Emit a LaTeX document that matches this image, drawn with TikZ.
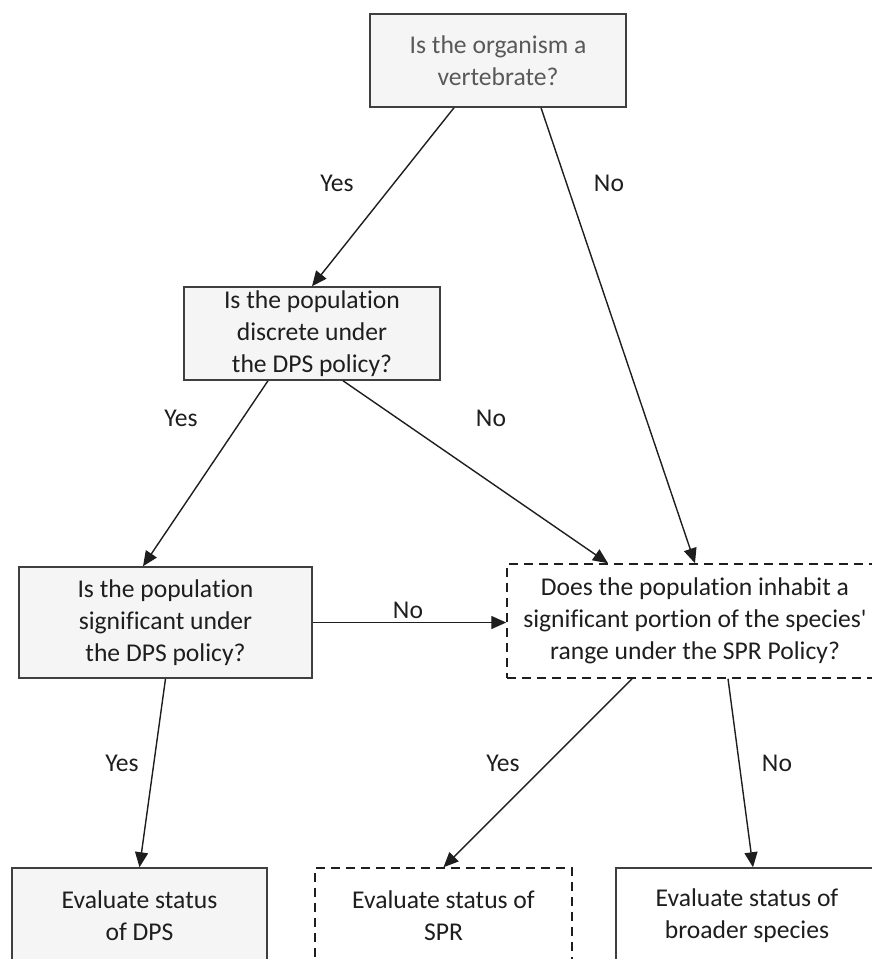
\documentclass[tikz,border=0pt]{standalone}
\usepackage{fontspec}
\setmainfont{Carlito}[Ligatures=NoCommon]
\usetikzlibrary{arrows.meta, positioning}
\definecolor{boxfill}{HTML}{F5F5F5}
\definecolor{boxline}{HTML}{3F3F3F}
\definecolor{greytext}{HTML}{595959}
\definecolor{inktext}{HTML}{1E1E1E}

\begin{document}
\begin{tikzpicture}[
    x=0.5pt, y=-0.5pt,
    box/.style={draw=boxline, line width=0.75pt, fill=boxfill, align=center, inner sep=0pt, text=inktext},
    wbox/.style={box, fill=white},
    dbox/.style={box, fill=white, draw=inktext, dash pattern=on 4.5pt off 3pt},
    lbl/.style={inner sep=0pt, text=inktext},
    conn/.style={-{Triangle[length=7.5pt, width=6.5pt]}, line width=0.7pt, draw=inktext},
    font=\fontsize{12.8}{16}\selectfont
  ]
    \useasboundingbox (0,0) rectangle (872,959);
    \clip (0,0) rectangle (872,959);

    % question boxes
    \node[box, text=greytext, minimum width=128pt, minimum height=46.5pt] (vert) at (498,60.5) {Is the organism a\\vertebrate?};
    \node[box, minimum width=128pt, minimum height=46.5pt] (disc) at (312,333.5) {Is the population\\discrete under\\the DPS policy?};
    \node[box, minimum width=146.5pt, minimum height=55.5pt] (sig) at (165.5,622.5) {Is the population\\significant under\\the DPS policy?};
    \node[dbox, minimum width=188pt, minimum height=57pt] (spr) at (695,621) {Does the population inhabit a\\significant portion of the species\textquotesingle\\range under the SPR Policy?};

    % outcome boxes
    \node[box, minimum width=127.5pt, minimum height=48pt] (evdps) at (139.5,916) {Evaluate status\\of DPS};
    \node[dbox, minimum width=128.5pt, minimum height=48pt] (evspr) at (443.5,916) {Evaluate status of\\SPR};
    \node[wbox, minimum width=131pt, minimum height=48pt] (evbroad) at (747,916) {Evaluate status of\\broader species};

    % connectors
    \draw[conn] ([xshift=-22pt]vert.south) -- (disc.north);
    \draw[conn] ([xshift=21.5pt]vert.south) -- (spr.north);
    \draw[conn] ([xshift=-22pt]disc.south) -- ([xshift=-11.25pt]sig.north);
    \draw[conn] ([xshift=15.5pt]disc.south) -- ([xshift=-43.5pt]spr.north);
    \draw[conn] (sig.east) -- (sig.east -| spr.west);
    \draw[conn] (sig.south) -- (evdps.north);
    \draw[conn] ([xshift=-31.5pt]spr.south) -- (evspr.north);
    \draw[conn] ([xshift=16.5pt]spr.south) -- ([xshift=3pt]evbroad.north);

    % answer labels
    \node[lbl] (yesvert) at (337,183) {Yes};
    \node[lbl] (novert) at (609,183) {No};
    \node[lbl] (yesdisc) at (181,418) {Yes};
    \node[lbl] (nodisc) at (491,418) {No};
    \node[lbl] (nosig) at (408,610) {No};
    \node[lbl] (yessig) at (122,763) {Yes};
    \node[lbl] (yesspr) at (503,763) {Yes};
    \node[lbl] (nospr) at (777,763) {No};
  \end{tikzpicture}
\end{document}
